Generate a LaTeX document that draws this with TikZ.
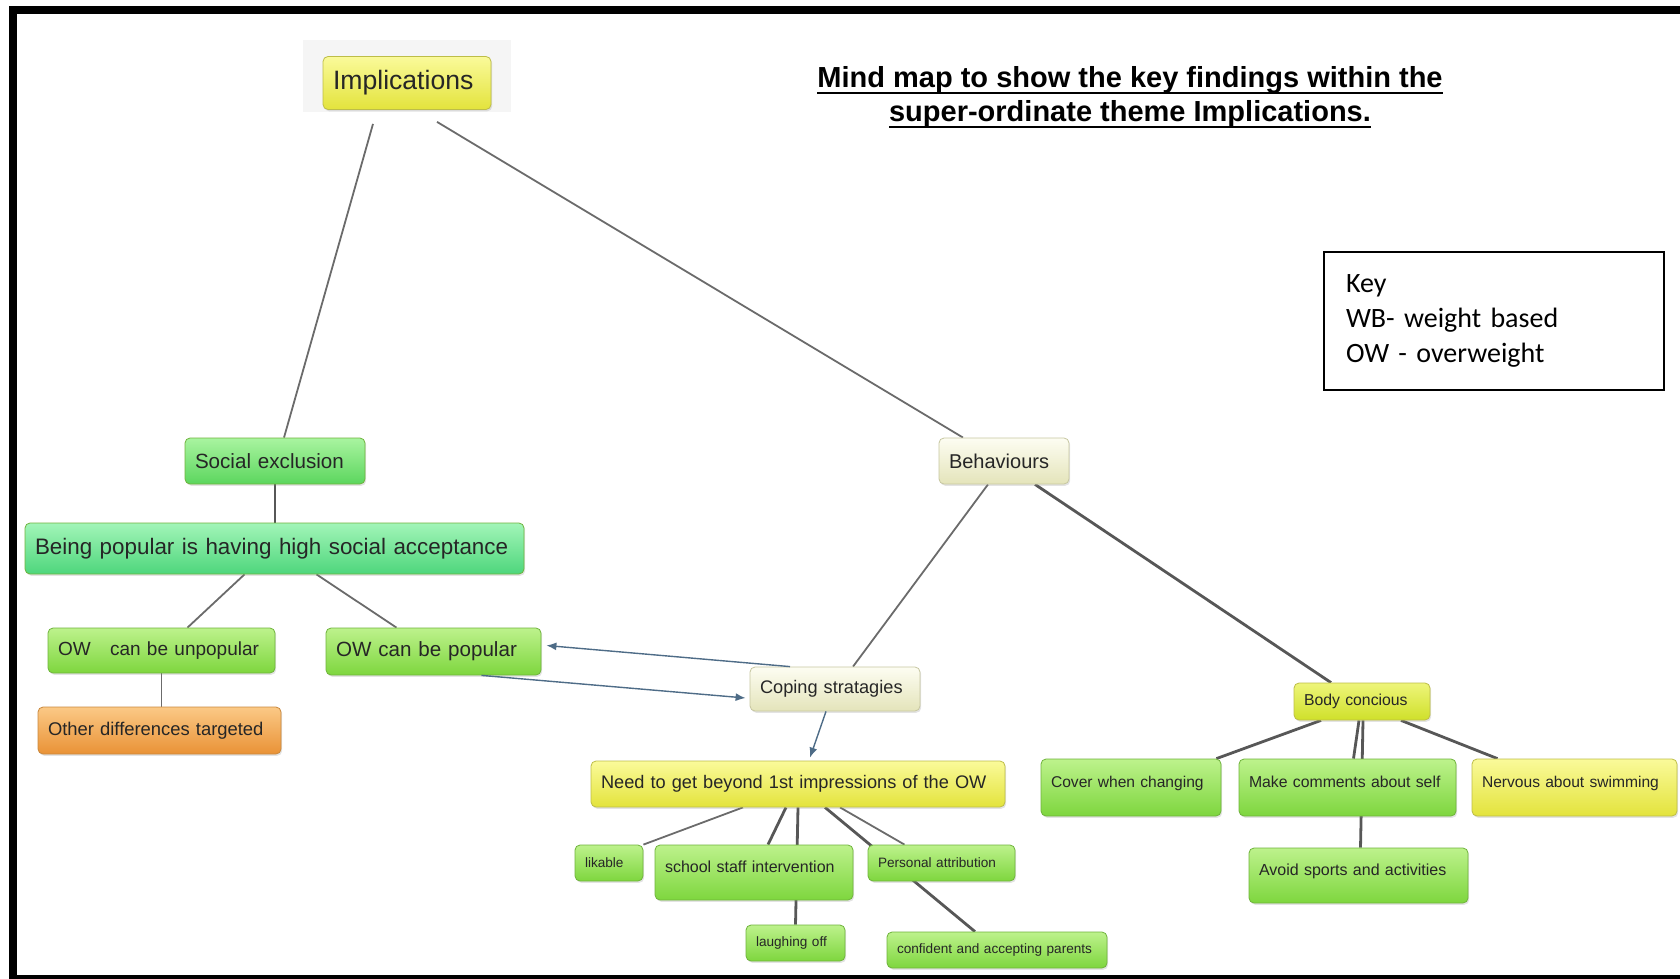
\documentclass[tikz,border=0pt]{standalone}
\usepackage{fontspec}
\setmainfont{Liberation Sans}
\newfontfamily\keyfont{Carlito}
\usetikzlibrary{calc,backgrounds,shadows,arrows.meta}
\newcommand\fsz[1]{\fontsize{#1}{#1}\selectfont}
\newcommand\titleline[1]{\setbox0=\hbox{#1}\rlap{\rule[-3.4pt]{\wd0}{1.2pt}}\box0}
\definecolor{limetop}{HTML}{BDF28C}
\definecolor{limebot}{HTML}{7ED63E}
\definecolor{limeline}{HTML}{6FB33C}
\definecolor{greentop}{HTML}{A9F4A0}
\definecolor{greenbot}{HTML}{5CD65E}
\definecolor{minttop}{HTML}{A2F5B8}
\definecolor{mintbot}{HTML}{4ED67C}
\definecolor{orangetop}{HTML}{FBC986}
\definecolor{orangebot}{HTML}{E99236}
\definecolor{orangeline}{HTML}{C8883E}
\definecolor{beigetop}{HTML}{FDFDF2}
\definecolor{beigebot}{HTML}{E4E4BA}
\definecolor{beigeline}{HTML}{C6C6A0}
\definecolor{yellowtop}{HTML}{FAFA9A}
\definecolor{yellowbot}{HTML}{E3E33C}
\definecolor{yellowline}{HTML}{BDBD48}
\definecolor{bodytop}{HTML}{EEF57A}
\definecolor{bodybot}{HTML}{CFE02A}
\definecolor{flowblue}{HTML}{4E6C87}
\tikzset{
  mapbox/.style={rounded corners=2.5pt, inner xsep=5pt, inner ysep=0pt, align=left,
    text=black!85, drop shadow={shadow xshift=0.6pt, shadow yshift=-0.9pt, opacity=0.22}},
  limebox/.style={mapbox, draw=limeline, top color=limetop, bottom color=limebot},
  greenbox/.style={mapbox, draw=limeline, top color=greentop, bottom color=greenbot},
  mintbox/.style={mapbox, draw=limeline, top color=minttop, bottom color=mintbot},
  orangebox/.style={mapbox, draw=orangeline, top color=orangetop, bottom color=orangebot},
  beigebox/.style={mapbox, draw=beigeline, top color=beigetop, bottom color=beigebot},
  yellowbox/.style={mapbox, draw=yellowline, top color=yellowtop, bottom color=yellowbot},
  bodybox/.style={mapbox, draw=yellowline, top color=bodytop, bottom color=bodybot},
  tallbox/.style={text depth=5.5pt},
  link/.style={draw=black!58, line width=0.9pt},
  boldlink/.style={draw=black!66, line width=1.4pt},
  flow/.style={draw=flowblue, line width=0.7pt, -{Latex[length=5pt,width=4pt]}}
}
\begin{document}
\begin{tikzpicture}[x=0.5pt, y=-0.5pt]
  \useasboundingbox (0,0) rectangle (1680,979);
  \draw[line width=4pt] (13,979) -- (13,10) -- (1680,10);
  \draw[line width=2pt] (9,977) -- (1680,977);

  \node[font=\bfseries\fontsize{14.5}{17}\selectfont, align=center] (title) at (1130,97)
    {\titleline{Mind map to show the key findings within the}\\\titleline{super-ordinate theme Implications.}};
  \node[draw, line width=0.8pt, minimum width=170pt, minimum height=69pt, inner xsep=11pt,
    text width=148pt, align=left, font=\keyfont\fontsize{14}{17.5}\selectfont] (key) at (1494,321)
    {Key\\WB- weight based\\OW - overweight};

  \node[yellowbox, text width=74pt, minimum height=26.5pt, font=\fsz{13.3}] (impl) at (407,83) {Implications};
  \node[greenbox, text width=80pt, minimum height=23pt, font=\fsz{10.3}] (socx) at (275,461) {Social exclusion};
  \node[beigebox, text width=55pt, minimum height=23pt, font=\fsz{10}] (behav) at (1004,461) {Behaviours};
  \node[mintbox, text width=239.5pt, minimum height=25.5pt, font=\fsz{11.2}] (bpop) at (274.5,548.5) {Being popular is having high social acceptance};
  \node[limebox, text width=103.5pt, minimum height=22.5pt, font=\fsz{9.5}] (owun) at (161.5,650.5) {OW\hspace{6.5pt} can be unpopular};
  \node[limebox, text width=97.5pt, minimum height=23.5pt, font=\fsz{10.3}] (owpop) at (433.5,651.5) {OW can be popular};
  \node[orangebox, text width=111.5pt, minimum height=23.5pt, font=\fsz{9.2}] (other) at (159.5,730.5) {Other differences targeted};
  \node[beigebox, text width=75pt, minimum height=22pt, font=\fsz{9.1}] (cope) at (835,689) {Coping stratagies};
  \node[yellowbox, text width=197pt, minimum height=23pt, font=\fsz{9.1}] (need) at (798,784) {Need to get beyond 1st impressions of the OW};
  \node[limebox, text width=24pt, minimum height=18pt, font=\fsz{6.8}] (likable) at (609,863) {likable};
  \node[limebox, tallbox, text width=89pt, minimum height=27.5pt, font=\fsz{8}] (school) at (754,872.5) {school staff intervention};
  \node[limebox, text width=63.5pt, minimum height=18pt, font=\fsz{6.8}] (pers) at (941.5,863) {Personal attribution};
  \node[limebox, text width=39.5pt, minimum height=18pt, font=\fsz{6.8}] (laugh) at (795.5,943) {laughing off};
  \node[limebox, text width=100pt, minimum height=18pt, font=\fsz{6.8}] (conf) at (997,950) {confident and accepting parents};
  \node[bodybox, text width=58pt, minimum height=18.5pt, font=\fsz{7.9}] (body) at (1362,701.5) {Body concious};
  \node[limebox, tallbox, text width=80pt, minimum height=28.5pt, font=\fsz{7.8}] (cover) at (1131,787.5) {Cover when changing};
  \node[limebox, tallbox, text width=98.5pt, minimum height=28.5pt, font=\fsz{7.9}] (make) at (1347.5,787.5) {Make comments about self};
  \node[yellowbox, tallbox, text width=92.5pt, minimum height=28.5pt, font=\fsz{7.8}] (nerv) at (1574.5,787.5) {Nervous about swimming};
  \node[limebox, tallbox, text width=99.5pt, minimum height=27.5pt, font=\fsz{8}] (avoid) at (1358.5,875.5) {Avoid sports and activities};

  \begin{scope}[on background layer]
    \fill[black!4] (303,40) rectangle (511,112);
    \draw[link] ($(impl.south)+(-34,14)$) -- ($(socx.north)+(9,0)$);
    \draw[link] ($(impl.south)+(30,12)$) -- ($(behav.north)+(-41,0)$);
    \draw[boldlink] (socx.south) -- (socx.south |- bpop.north);
    \draw[link] ($(bpop.south)+(-30,0)$) -- ($(owun.north)+(26,0)$);
    \draw[link] ($(bpop.south)+(42,0)$) -- ($(owpop.north)+(-37,0)$);
    \draw[link] (owun.south) -- (owun.south |- other.north);
    \draw[link] ($(behav.south)+(-16,0)$) -- ($(cope.north)+(18,0)$);
    \draw[boldlink] ($(behav.south)+(31,0)$) -- ($(body.north)+(-31,0)$);
    \draw[link] ($(need.south)+(-55,0)$) -- (likable.north east);
    \draw[boldlink] ($(need.south)+(-12,0)$) -- ($(school.north)+(14,0)$);
    \draw[boldlink] (need.south) -- (laugh.north);
    \draw[link] ($(need.south)+(42,0)$) -- ($(pers.north)+(-37,0)$);
    \draw[boldlink] ($(need.south)+(27,0)$) -- ($(conf.north)+(-22,0)$);
    \draw[boldlink] ($(body.south)+(-41,0)$) -- ($(cover.north east)+(-5,0)$);
    \draw[boldlink] ($(body.south)+(-3,0)$) -- ($(make.north)+(6,0)$);
    \draw[boldlink] ($(body.south)+(1,0)$) -- ($(avoid.north)+(2,0)$);
    \draw[boldlink] ($(body.south)+(39,0)$) -- ($(nerv.north)+(-77,0)$);
  \end{scope}

  \draw[flow] ($(cope.north)+(-45,0)$) -- ($(owpop.east)+(5,-6)$);
  \draw[flow] ($(owpop.south)+(48,0)$) -- ($(cope.west)+(-4,9)$);
  \draw[flow] ($(cope.south)+(-9,0)$) -- ($(need.north)+(12,-3)$);
\end{tikzpicture}
\end{document}
